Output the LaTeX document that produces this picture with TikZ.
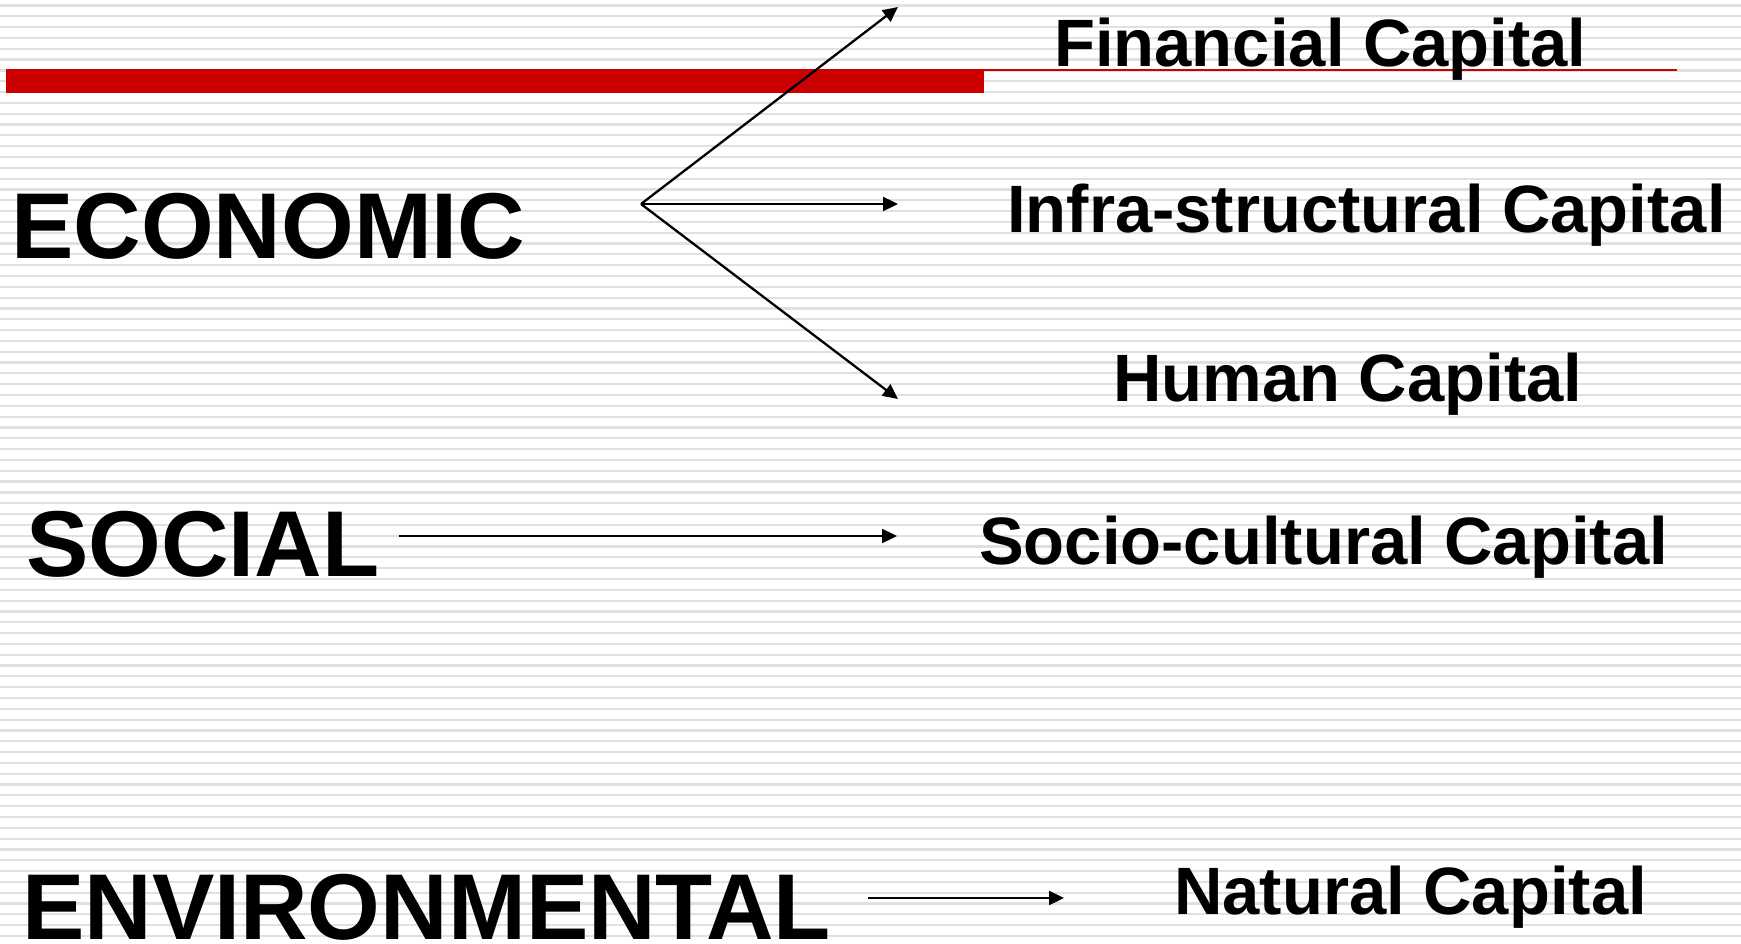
\documentclass[tikz,border=0pt]{standalone}
\usepackage{fontspec}
\setmainfont{Liberation Sans}
\usetikzlibrary{arrows.meta}
\definecolor{barred}{HTML}{CC0000}
\definecolor{stripe}{HTML}{E0E0E0}
\tikzset{
  big/.style={anchor=base west, inner sep=0pt, text depth=0pt, font=\bfseries\fontsize{93.5}{94}\selectfont},
  small/.style={anchor=base west, inner sep=0pt, font=\bfseries\fontsize{67}{67}\selectfont},
  conn/.style={line width=2.3pt, -{Triangle[length=15pt,width=14pt]}},
}
\begin{document}
\begin{tikzpicture}[x=1pt,y=-1pt]
\useasboundingbox (0,0) rectangle (1741,944);
\fill[white] (0,0) rectangle (1741,944);
\foreach \i in {0,...,87} {
  \draw[stripe, line width=2.2pt] (0,{5.5+\i*10.82}) -- (1741,{5.5+\i*10.82});
}
% red bar and rule
\fill[barred] (6,69) rectangle (984,93);
\draw[barred, line width=2pt] (984,70) -- (1677,70);
% labels
\node[big] (eco) at (11,259) {ECONOMIC};
\node[big] (soc) at (26,576) {SOCIAL};
\node[big] (env) at (22,939) {ENVIRONMENTAL};
\node[small] (fin) at (1054,67) {Financial Capital};
\node[small] (inf) at (1007,233) {Infra-structural Capital};
\node[small] (hum) at (1113,401) {Human Capital};
\node[small] (scc) at (979,564) {Socio-cultural Capital};
\node[small] (nat) at (1174,914) {Natural Capital};
% connector points
\coordinate (ecoS) at (641,204);
\coordinate (finE) at (898,7);
\coordinate (infE) at (898,204);
\coordinate (humE) at (898,399);
\coordinate (socS) at (399,536);
\coordinate (sccE) at (897,536);
\coordinate (envS) at (868,898);
\coordinate (natE) at (1064,898);
\draw[conn] (ecoS) -- (finE);
\draw[conn] (ecoS) -- (infE);
\draw[conn] (ecoS) -- (humE);
\draw[conn] (socS) -- (sccE);
\draw[conn] (envS) -- (natE);
\end{tikzpicture}
\end{document}
